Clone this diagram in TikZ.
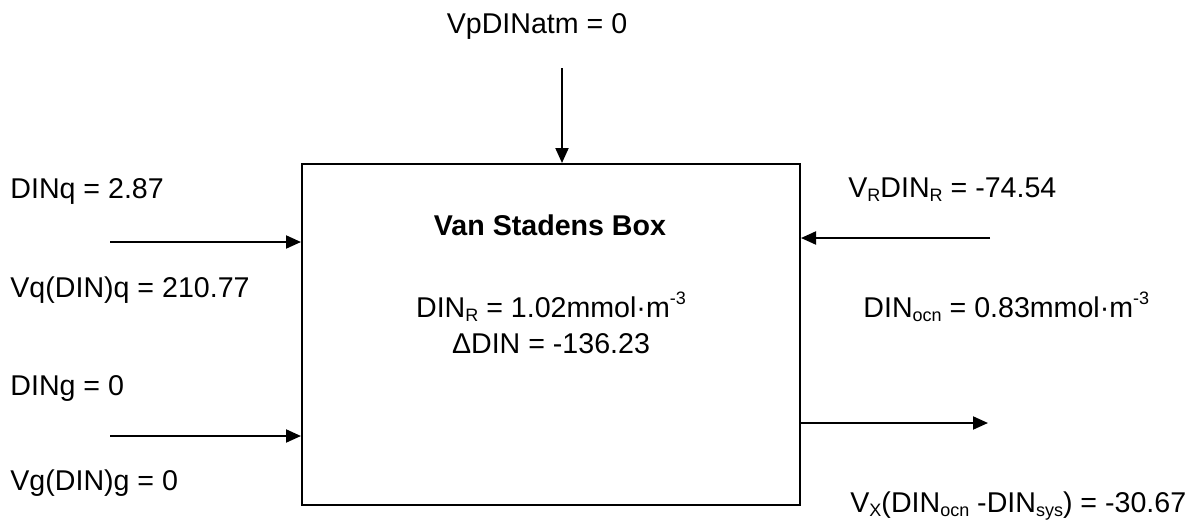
\documentclass[tikz,border=0pt]{standalone}
\usepackage{fontspec}
\setmainfont{Liberation Sans}
\usetikzlibrary{arrows.meta}
\newcommand\lo[1]{\raisebox{-0.3ex}{\fontsize{9}{10}\selectfont #1}}
\newcommand\hi[1]{\raisebox{0.85ex}{\fontsize{9}{10}\selectfont #1}}

\begin{document}
\begin{tikzpicture}[x=0.5pt,y=-0.5pt,font=\fontsize{14.3}{17}\selectfont]
\tikzstyle{lbl}=[anchor=base west,inner sep=0pt]
\tikzstyle{mid}=[anchor=base,inner sep=0pt]
\tikzstyle{flow}=[line width=1pt,-{Triangle[length=7.5pt,width=6.5pt]}]
\useasboundingbox (0,0) rectangle (1196,520);

   % the box
   \draw (551,334.5) node (box) [draw,line width=1pt,minimum width=249pt,minimum height=170.5pt] {};
   \draw (550,235) node (title) [mid] {\bfseries Van Stadens Box};
   \draw (551,317) node (dinr) [mid] {DIN\lo{R} = 1.02mmol·m\hi{-3}};
   \draw (551,353) node (ddin) [mid] {ΔDIN = -136.23};

   % labels outside
   \draw (537,33) node (atmlbl) [mid] {VpDINatm = 0};
   \draw (10,198) node (dinq) [lbl] {DINq = 2.87};
   \draw (10,297) node (vq) [lbl] {Vq(DIN)q = 210.77};
   \draw (10,395) node (ding) [lbl] {DINg = 0};
   \draw (10,490) node (vg) [lbl] {Vg(DIN)g = 0};
   \draw (848,197) node (vr) [lbl] {V\lo{R}DIN\lo{R} = -74.54};
   \draw (863,317) node (dinocn) [lbl] {DIN\lo{ocn} = 0.83mmol·m\hi{-3}};
   \draw (850,512) node (vx) [lbl] {V\lo{X}(DIN\lo{ocn} -DIN\lo{sys}) = -30.67};

   % flows
   \coordinate (atm) at (562,68);
   \coordinate (qin) at (110,242);
   \coordinate (gin) at (110,436);
   \coordinate (rin) at (990,238);
   \coordinate (xout) at (988,423);
   \path [draw,flow] (atm) -- (atm |- box.north);
   \path [draw,flow] (qin) -- (qin -| box.west);
   \path [draw,flow] (gin) -- (gin -| box.west);
   \path [draw,flow] (rin) -- (rin -| box.east);
   \path [draw,flow] (xout -| box.east) -- (xout);
\end{tikzpicture}
\end{document}
